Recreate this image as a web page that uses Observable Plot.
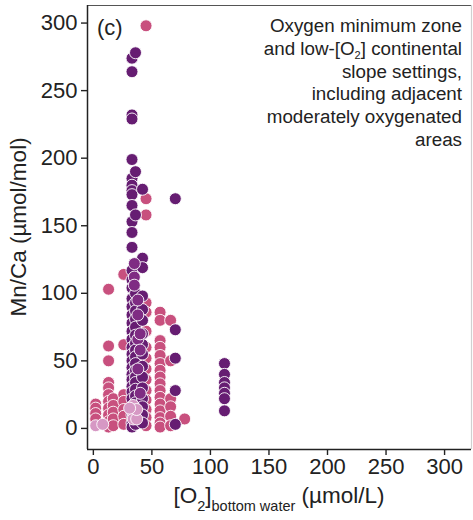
<!DOCTYPE html>
<html>
<head>
<meta charset="utf-8">
<script src="https://cdn.jsdelivr.net/npm/d3@7"></script>
<script src="https://cdn.jsdelivr.net/npm/@observablehq/plot@0.6"></script>
<style>
  body { margin: 0; background: #fff; }
  #chart svg { display: block; }
</style>
</head>
<body>
<div id="chart"></div>
<script>
// Bottom-water oxygen (µmol/L) vs. foraminiferal Mn/Ca (µmol/mol), OMZ / low-O2 slope sites.
const xTicks = [0, 50, 100, 150, 200, 250, 300];
const yTicks = [0, 50, 100, 150, 200, 250, 300];

// [O2 bottom water, Mn/Ca] pairs per site group
const rosePts = [
  [2, 18], [2, 15], [2, 11], [2, 7],
  [13, 103], [13, 61], [13, 50], [13, 34], [13, 30], [13, 25], [13, 20], [13, 15], [13, 10], [13, 5], [13, 1],
  [17, 22], [17, 17], [17, 12], [17, 7], [17, 2],
  [26, 114], [26, 62], [26, 25], [26, 20], [26, 14], [26, 9], [26, 3],
  [45, 298], [45, 170], [45, 158], [45, 93], [45, 86], [45, 72], [45, 60], [45, 52], [45, 44],
  [45, 36], [45, 28], [45, 21], [45, 14], [45, 8], [45, 2],
  [57, 86], [57, 80], [57, 65], [57, 60], [57, 54], [57, 48], [57, 43], [57, 38], [57, 33],
  [57, 28], [57, 23], [57, 18], [57, 13], [57, 8], [57, 4], [57, 1],
  [66, 80], [66, 50], [66, 22], [66, 16], [66, 9], [66, 2],
  [78, 7]
];

const plumPts = [
  [33, 274], [33, 264], [33, 232], [33, 229], [33, 199], [33, 185], [33, 180], [33, 176], [33, 173],
  [33, 165], [33, 153], [33, 145], [33, 134], [33, 117], [33, 110], [33, 104], [33, 96], [33, 90],
  [33, 84], [33, 78], [33, 72], [33, 66], [33, 60], [33, 55], [33, 50], [33, 45], [33, 40], [33, 36],
  [33, 31], [33, 27], [33, 22], [33, 16], [33, 10], [33, 4], [33, 1],
  [36, 278], [36, 190], [36, 158], [36, 100], [36, 93], [36, 87], [36, 81], [36, 75], [36, 69],
  [36, 63], [36, 58], [36, 53], [36, 48], [36, 43], [36, 38], [36, 34], [36, 29], [36, 24], [36, 19],
  [36, 14], [36, 9], [36, 3],
  [42, 177], [42, 126], [42, 119], [42, 98], [42, 88], [42, 80], [42, 70], [42, 62], [42, 55],
  [42, 46], [42, 38], [42, 30], [42, 22], [42, 16], [42, 10], [42, 4],
  [70, 170], [70, 73], [70, 52], [70, 28], [70, 3],
  [112, 48], [112, 40], [112, 34], [112, 30], [112, 26], [112, 22], [112, 13]
];

const violetPts = [
  [35, 122], [35, 112], [35, 106], [38, 95], [38, 84], [38, 66], [38, 44], [40, 70], [40, 58], [40, 26]
];

const lilacPts = [
  [2, 2], [8, 3], [34, 17], [34, 11], [34, 7], [37, 7], [37, 14], [31, 15]
];

const groups = [
  {name: "rose", color: "#c8507e", pts: rosePts},
  {name: "plum", color: "#661d72", pts: plumPts},
  {name: "violet", color: "#7f2c83", pts: violetPts},
  {name: "lilac", color: "#d698c4", pts: lilacPts}
];

const data = groups.flatMap(g => g.pts.map(([o2, mnca]) => ({o2, mnca, group: g.name})));

const xDomain = [-5, 323];
const yDomain = [-15.6, 313];

const chart = Plot.plot({
  width: 473,
  height: 520,
  marginLeft: 87,
  marginRight: 2,
  marginTop: 5,
  marginBottom: 71,
  style: {fontFamily: "'Liberation Sans', Arial, sans-serif", fontSize: "22px", color: "#222", background: "#fff"},
  x: {domain: xDomain},
  y: {domain: yDomain},
  color: {domain: groups.map(g => g.name), range: groups.map(g => g.color)},
  marks: [
    Plot.ruleY([yDomain[1]], {stroke: "#555", strokeWidth: 1.2}),
    Plot.ruleX([xDomain[1]], {stroke: "#d0d0d0", strokeWidth: 1.2}),
    Plot.dot(data, {x: "o2", y: "mnca", fill: "group", r: 6, stroke: "#fff", strokeWidth: 0.9}),
    Plot.ruleX([xDomain[0]], {stroke: "#222", strokeWidth: 1.5}),
    Plot.ruleY([yDomain[0]], {stroke: "#222", strokeWidth: 1.5}),
    Plot.axisX({ticks: xTicks, tickSize: 6, tickPadding: 3, label: null, fontSize: 22, strokeWidth: 1.4}),
    Plot.axisY({ticks: yTicks, tickSize: 6, tickPadding: 4, label: null, fontSize: 22, strokeWidth: 1.4})
  ]
});

document.getElementById("chart").appendChild(chart);

const svg = d3.select(chart);
const font = "'Liberation Sans', Arial, sans-serif";

// panel tag
svg.append("text").attr("x", 97).attr("y", 35).attr("text-anchor", "start").attr("font-family", font)
  .attr("font-size", 22).attr("fill", "#222").text("(c)");

// setting description, right aligned
const note = svg.append("text").attr("text-anchor", "end").attr("font-family", font)
  .attr("font-size", 18.8).attr("fill", "#222");
const noteX = 462;
note.append("tspan").attr("x", noteX).attr("y", 32).text("Oxygen minimum zone");
const l2 = note.append("tspan").attr("x", noteX).attr("y", 55);
l2.append("tspan").text("and low-[O");
l2.append("tspan").attr("font-size", 11).attr("dy", 4).text("2");
l2.append("tspan").attr("dy", -4).text("] continental");
note.append("tspan").attr("x", noteX).attr("y", 78).text("slope settings,");
note.append("tspan").attr("x", noteX).attr("y", 100).text("including adjacent");
note.append("tspan").attr("x", noteX).attr("y", 123).text("moderately oxygenated");
note.append("tspan").attr("x", noteX).attr("y", 146).text("areas");

// y axis title
svg.append("text").attr("transform", "translate(26,227) rotate(-90)")
  .attr("text-anchor", "middle").attr("font-family", font).attr("font-size", 22.5)
  .attr("fill", "#222").text("Mn/Ca (µmol/mol)");

// x axis title with subscripts
const xt = svg.append("text").attr("x", 279).attr("y", 503).attr("text-anchor", "middle")
  .attr("font-family", font).attr("font-size", 22.5).attr("fill", "#222");
xt.append("tspan").text("[O");
xt.append("tspan").attr("font-size", 14.5).attr("dy", 8).text("2");
xt.append("tspan").attr("dy", -8).text("]");
xt.append("tspan").attr("font-size", 14.5).attr("dy", 8).text("bottom water");
xt.append("tspan").attr("dy", -8).text(" (µmol/L)");
</script>
</body>
</html>
